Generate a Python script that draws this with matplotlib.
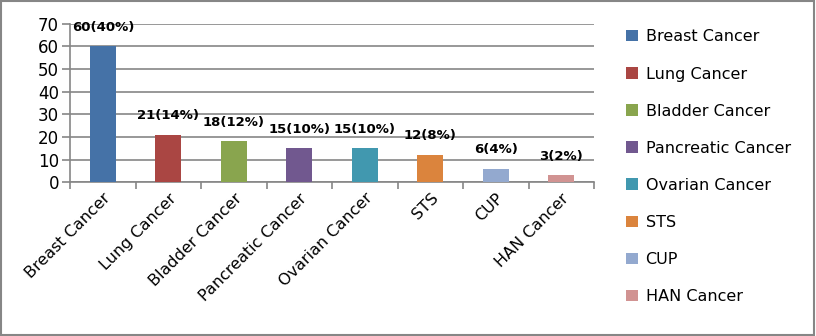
import matplotlib
matplotlib.use('Agg')
import matplotlib.pyplot as plt
from matplotlib.patches import Rectangle

categories = ['Breast Cancer', 'Lung Cancer', 'Bladder Cancer', 'Pancreatic Cancer',
              'Ovarian Cancer', 'STS', 'CUP', 'HAN Cancer']
counts = [60, 21, 18, 15, 15, 12, 6, 3]
labels = ['60(40%)', '21(14%)', '18(12%)', '15(10%)', '15(10%)', '12(8%)', '6(4%)', '3(2%)']
colors = ['#4572A7', '#AA4643', '#89A54E', '#71588F', '#4198AF', '#DB843D', '#93A9CF', '#D19392']

GRID = '#868686'
TEXT = '#000000'

plt.rcParams['font.family'] = ['DejaVu Sans']

fig = plt.figure(figsize=(8.16, 3.36), dpi=100)
ax = fig.add_axes([0.086, 0.458, 0.642, 0.471])

x = list(range(len(categories)))
bars = ax.bar(x, counts, width=0.4, color=colors, label=categories, zorder=3)

for xi, v, lab in zip(x, counts, labels):
    ax.annotate(lab, (xi, v), xytext=(0, 9), textcoords='offset points',
                ha='center', va='bottom', fontsize=9.5, fontweight='bold', color=TEXT)

ax.set_xlim(-0.5, len(categories) - 0.5)
ax.set_ylim(0, 70)
ax.set_yticks(range(0, 71, 10))
ax.yaxis.grid(True, color=GRID, linewidth=1.2, zorder=0)
ax.set_axisbelow(True)

ax.set_xticks(x)
ax.set_xticklabels(categories, rotation=45, ha='right', rotation_mode='anchor', fontsize=11.5)
ax.tick_params(axis='x', which='major', length=0, pad=6)
ax.set_xticks([i - 0.5 for i in range(len(categories) + 1)], minor=True)
ax.tick_params(axis='x', which='minor', length=5, color=GRID, width=1.2)
ax.tick_params(axis='y', length=6, color=GRID, width=1.2, labelsize=12, pad=2)

for s in ['top', 'right']:
    ax.spines[s].set_visible(False)
for s in ['left', 'bottom']:
    ax.spines[s].set_color(GRID)
    ax.spines[s].set_linewidth(1.2)

ax.legend(loc='upper left', bbox_to_anchor=(0.75, 0.955), bbox_transform=fig.transFigure,
          frameon=False, fontsize=11.5, labelspacing=1.38, handlelength=0.7, handleheight=0.7,
          handletextpad=0.5)

fig.patches.append(Rectangle((0.001, 0.002), 0.997, 0.995, transform=fig.transFigure,
                             fill=False, edgecolor=GRID, linewidth=1.5))

fig.savefig('out.png', dpi=100, facecolor='white')
